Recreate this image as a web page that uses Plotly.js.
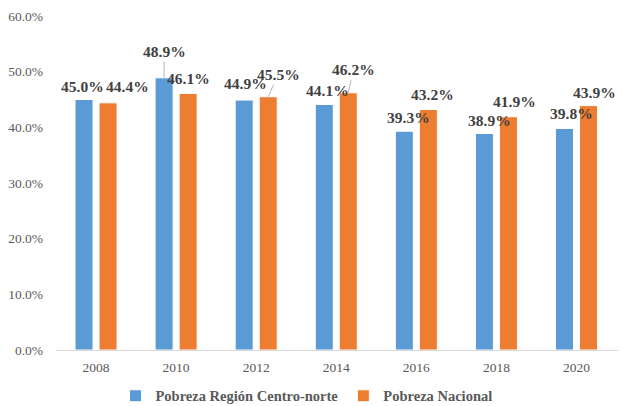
<!DOCTYPE html>
<html>
<head>
<meta charset="utf-8">
<script src="https://cdn.plot.ly/plotly-3.0.1.min.js"></script>
<style>html,body{margin:0;padding:0;background:#fff;}#chart{width:623px;height:406px;}</style>
</head>
<body>
<div id="chart"></div>
<script>
// Data
var years = ['2008', '2010', '2012', '2014', '2016', '2018', '2020'];
var regionValues = [45.0, 48.9, 44.9, 44.1, 39.3, 38.9, 39.8];
var nationalValues = [44.4, 46.1, 45.5, 46.2, 43.2, 41.9, 43.9];
var seriesNames = ['Pobreza Región Centro-norte', 'Pobreza Nacional'];

// Label placement (pixel offsets of label centre from bar top centre)
var regionLabelDx = [-2, 0, 1, 3, 4, 5, 7];
var regionLabelDy = [13, 26, 17, 14, 14, 13, 15];
var nationalLabelDx = [19, 0, 10, 5, 4, 6, 6];
var nationalLabelDy = [16, 15, 22, 23, 15, 15, 13];
var regionLeader = [false, true, false, false, false, false, false];
var nationalLeader = [false, false, true, true, false, false, false];

var blue = '#5B9BD5', orange = '#ED7D31';
var serif = 'Liberation Serif';
var groupOffset = 12;

var traces = [
  {type: 'bar', name: '<b>' + seriesNames[0] + '</b>', x: years, y: regionValues,
   marker: {color: blue, line: {color: '#ffffff', width: 1}}, hoverinfo: 'none'},
  {type: 'bar', name: '<b>' + seriesNames[1] + '</b>', x: years, y: nationalValues,
   marker: {color: orange, line: {color: '#ffffff', width: 1}}, hoverinfo: 'none'}
];

var annotations = [];
function addLabels(vals, dx, dy, leader, side) {
  for (var i = 0; i < years.length; i++) {
    var txt = '<b>' + vals[i].toFixed(1) + '%</b>';
    var a = {x: i, y: vals[i], xref: 'x', yref: 'y', text: txt,
      font: {family: serif, size: 15.5, color: '#404040'}};
    if (leader[i]) {
      a.showarrow = true; a.arrowhead = 0; a.arrowwidth = 0.8; a.arrowcolor = '#a6a6a6';
      a.xshift = side * groupOffset;
      a.ax = dx[i]; a.ay = -dy[i];
      a.standoff = 0;
    } else {
      a.showarrow = false;
      a.xshift = side * groupOffset + dx[i];
      a.yshift = dy[i];
    }
    annotations.push(a);
  }
}
addLabels(regionValues, regionLabelDx, regionLabelDy, regionLeader, -1);
addLabels(nationalValues, nationalLabelDx, nationalLabelDy, nationalLeader, 1);

var layout = {
  width: 623, height: 406,
  margin: {l: 56, r: 5, t: 16, b: 56},
  paper_bgcolor: '#ffffff', plot_bgcolor: '#ffffff',
  font: {family: serif},
  barmode: 'group', bargap: 0.40, bargroupgap: 0.25,
  showlegend: true,
  legend: {orientation: 'h', xref: 'container', yref: 'container', x: 0.492, xanchor: 'center',
    y: 0.025, yanchor: 'middle',
    font: {family: serif, size: 14.5, color: '#595959'}, itemwidth: 30},
  xaxis: {type: 'category', showgrid: false, showline: true, linecolor: '#d9d9d9', linewidth: 1,
    ticks: '', tickfont: {family: serif, size: 13.5, color: '#595959'}, ticklabelstandoff: 5, zeroline: false},
  yaxis: {range: [0, 60], dtick: 10, tick0: 0, showgrid: false, zeroline: false, showline: false,
    ticksuffix: '%', tickformat: '.1f', tickfont: {family: serif, size: 13.5, color: '#595959'},
    ticklabelstandoff: 12},
  annotations: annotations
};

Plotly.newPlot('chart', traces, layout, {staticPlot: true, displayModeBar: false});
</script>
</body>
</html>
